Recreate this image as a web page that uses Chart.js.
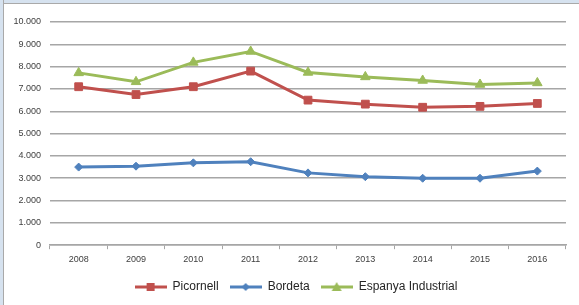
<!DOCTYPE html>
<html>
<head>
<meta charset="utf-8">
<script src="https://cdn.jsdelivr.net/npm/chart.js@4"></script>
<style>
  html, body { margin: 0; padding: 0; background: #fff; }
  #wrap { position: relative; width: 579px; height: 305px; overflow: hidden; }
  #wrap canvas { position: absolute; left: 0; top: 0; }
  /* window frame bits on top/left edges */
  #edgeTop { position: absolute; left: 0; top: 0; width: 579px; height: 3px; background: #d6e2ef; border-bottom: 1px solid #a9a9a9; }
  #edgeLeft { position: absolute; left: 0; top: 0; width: 3px; height: 305px; background: #d6e2ef; border-right: 1px solid #a9a9a9; }
</style>
</head>
<body>
<div id="wrap">
  <canvas id="chart" width="579" height="305"></canvas>
  <div id="edgeTop"></div>
  <div id="edgeLeft"></div>
</div>
<script>
// --- data ---
const years = ['2008', '2009', '2010', '2011', '2012', '2013', '2014', '2015', '2016'];
const picornell = [7100, 6750, 7100, 7800, 6500, 6320, 6180, 6220, 6350];
const bordeta = [3500, 3540, 3690, 3740, 3240, 3070, 3000, 3000, 3320];
const espanya = [7720, 7320, 8190, 8680, 7740, 7540, 7380, 7200, 7270];
const seriesNames = ['Picornell', 'Bordeta', 'Espanya Industrial'];

const RED = '#c0504d';
const BLUE = '#4f81bd';
const GREEN = '#9bbb59';
const FONT = "'Liberation Sans', Arial, sans-serif";

// thousands separator with a dot (10.000)
function fmt(v) {
  return String(v).replace(/\B(?=(\d{3})+(?!\d))/g, '.');
}

// little line+marker icons for the legend
function legendIcon(color, shape) {
  const c = document.createElement('canvas');
  c.width = 32; c.height = 12;
  const g = c.getContext('2d');
  g.strokeStyle = color;
  g.lineWidth = 3;
  g.beginPath(); g.moveTo(0, 6); g.lineTo(32, 6); g.stroke();
  g.fillStyle = color;
  g.beginPath();
  if (shape === 'rect') {
    g.rect(12, 2, 8, 8);
  } else if (shape === 'rectRot') {
    g.moveTo(16, 2); g.lineTo(20, 6); g.lineTo(16, 10); g.lineTo(12, 6); g.closePath();
  } else {
    g.moveTo(16, 1); g.lineTo(21, 10); g.lineTo(11, 10); g.closePath();
  }
  g.fill();
  return c;
}

const icons = [legendIcon(RED, 'rect'), legendIcon(BLUE, 'rectRot'), legendIcon(GREEN, 'triangle')];

function lineSet(label, data, color, style, radius) {
  return {
    label: label,
    data: data,
    borderColor: color,
    backgroundColor: color,
    borderWidth: 3,
    tension: 0,
    pointStyle: style,
    pointRadius: radius,
    pointHoverRadius: radius,
    pointBorderWidth: 1,
    pointBorderColor: color,
    pointBackgroundColor: color,
    fill: false
  };
}

// the original legend sits a bit right of the canvas centre
const legendShift = {
  id: 'legendShift',
  afterLayout(chart) {
    if (chart.legend) chart.legend.left += 26;
  }
};

new Chart(document.getElementById('chart'), {
  type: 'line',
  data: {
    labels: years,
    datasets: [
      lineSet(seriesNames[0], picornell, RED, 'rect', 5.5),
      lineSet(seriesNames[1], bordeta, BLUE, 'rectRot', 4),
      lineSet(seriesNames[2], espanya, GREEN, 'triangle', 5.5)
    ]
  },
  plugins: [legendShift],
  options: {
    responsive: false,
    animation: false,
    layout: { padding: { left: 0, right: 13, top: 22, bottom: 2 } },
    plugins: {
      tooltip: { enabled: false },
      legend: {
        position: 'bottom',
        labels: {
          usePointStyle: true,
          pointStyleWidth: 32,
          padding: 11,
          color: '#262626',
          font: { family: FONT, size: 12 },
          generateLabels: function (chart) {
            return chart.data.datasets.map((ds, i) => ({
              text: ds.label,
              pointStyle: icons[i],
              datasetIndex: i,
              hidden: false,
              fontColor: '#262626',
              lineWidth: 0,
              strokeStyle: 'transparent',
              fillStyle: 'transparent'
            }));
          }
        }
      }
    },
    scales: {
      x: {
        offset: true,
        grid: {
          offset: true,
          drawOnChartArea: false,
          drawTicks: true,
          tickLength: 4,
          color: '#a6a6a6'
        },
        border: { display: true, color: '#a6a6a6', width: 1.5 },
        ticks: {
          color: '#404040',
          padding: 5,
          maxRotation: 0,
          font: { family: FONT, size: 9 }
        }
      },
      y: {
        min: 0,
        max: 10000,
        afterFit: function (scale) { scale.width = 50; },
        grid: { color: '#a6a6a6', lineWidth: 1.5, drawTicks: false },
        border: { display: false },
        ticks: {
          stepSize: 1000,
          padding: 9,
          color: '#404040',
          font: { family: FONT, size: 9 },
          callback: function (v) { return fmt(v); }
        }
      }
    }
  }
});
</script>
</body>
</html>
